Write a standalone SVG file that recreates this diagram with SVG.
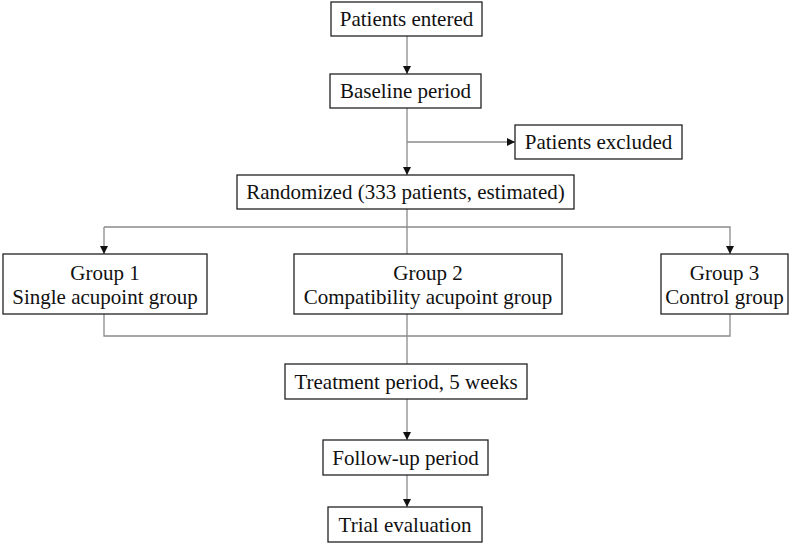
<svg xmlns="http://www.w3.org/2000/svg" width="800" height="544" viewBox="0 0 800 544">
<defs>
<marker id="arr" viewBox="0 0 8 8" refX="8" refY="4" markerWidth="8" markerHeight="8" markerUnits="userSpaceOnUse" orient="auto">
<path d="M0,0 L8,4 L0,8 Z" fill="#111"/>
</marker>
<style>
.box{fill:#fff;stroke:#222;stroke-width:1.3}
.t{font-family:"Liberation Serif","Times New Roman",serif;font-size:21px;fill:#111;text-anchor:middle}
.c{fill:none;stroke:#8a8a8a;stroke-width:1.3}
</style>
</defs>
<rect width="800" height="544" fill="#fff"/>
<g id="connectors">
<line class="c" x1="407" y1="36" x2="407" y2="74" marker-end="url(#arr)"/>
<line class="c" x1="407" y1="108" x2="407" y2="175" marker-end="url(#arr)"/>
<line class="c" x1="407" y1="142" x2="515" y2="142" marker-end="url(#arr)"/>
<line class="c" x1="407" y1="209" x2="407" y2="254"/>
<polyline class="c" points="104,227 730,227 730,254" marker-end="url(#arr)"/>
<line class="c" x1="104" y1="227" x2="104" y2="254" marker-end="url(#arr)"/>
<polyline class="c" points="104,314 104,336 730,336 730,314"/>
<line class="c" x1="407" y1="314" x2="407" y2="364"/>
<line class="c" x1="407" y1="399" x2="407" y2="440" marker-end="url(#arr)"/>
<line class="c" x1="407" y1="475" x2="407" y2="507" marker-end="url(#arr)"/>
</g>
<g id="entered"><rect class="box" x="331" y="2" width="151" height="34"/><text class="t" x="406.5" y="26">Patients entered</text></g>
<g id="baseline"><rect class="box" x="330" y="74" width="151" height="34"/><text class="t" x="405.5" y="98">Baseline period</text></g>
<g id="excluded"><rect class="box" x="515" y="125" width="167" height="34"/><text class="t" x="598.5" y="149">Patients excluded</text></g>
<g id="randomized"><rect class="box" x="237" y="175" width="337" height="34"/><text class="t" x="405.5" y="199">Randomized (333 patients, estimated)</text></g>
<g id="group1"><rect class="box" x="3" y="254" width="204" height="60"/><text class="t" x="105" y="280">Group 1</text><text class="t" x="105" y="304">Single acupoint group</text></g>
<g id="group2"><rect class="box" x="294" y="254" width="268" height="60"/><text class="t" x="428" y="280">Group 2</text><text class="t" x="428" y="304">Compatibility acupoint group</text></g>
<g id="group3"><rect class="box" x="661" y="254" width="127" height="60"/><text class="t" x="724.5" y="280">Group 3</text><text class="t" x="724.5" y="304">Control group</text></g>
<g id="treatment"><rect class="box" x="285" y="364" width="242" height="35"/><text class="t" x="406" y="389">Treatment period, 5 weeks</text></g>
<g id="followup"><rect class="box" x="323" y="440" width="165" height="35"/><text class="t" x="405.5" y="465">Follow-up period</text></g>
<g id="evaluation"><rect class="box" x="328" y="507" width="154" height="35"/><text class="t" x="405" y="532">Trial evaluation</text></g>
</svg>
